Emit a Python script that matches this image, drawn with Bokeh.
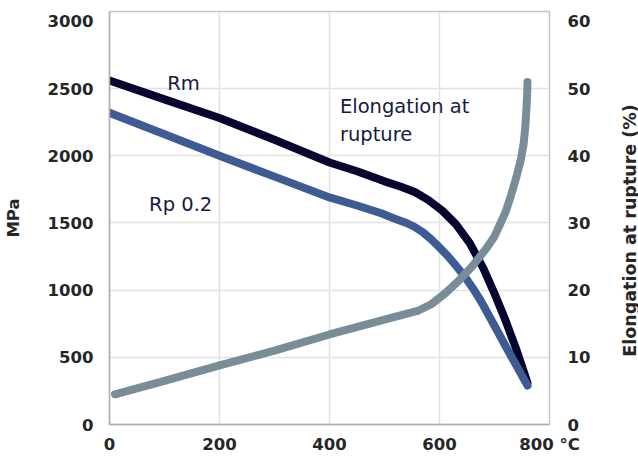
import math
from bokeh.plotting import figure
from bokeh.layouts import row
from bokeh.models import Range1d, LinearAxis, FixedTicker
from bokeh.core.properties import value
from bokeh.embed import file_html
from bokeh.resources import INLINE

# ---- data ----
rm_temp = [0, 100, 200, 300, 400, 450, 500, 530, 555, 580, 605, 630, 655, 680, 700, 720, 740, 760]
rm_mpa = [2560, 2420, 2281, 2120, 1950, 1885, 1810, 1770, 1730, 1670, 1592, 1490, 1350, 1160, 975, 775, 555, 310]

rp_temp = [0, 100, 200, 300, 400, 450, 494, 520, 540, 555, 570, 585, 600, 615, 630, 645, 660, 675, 700, 730, 760]
rp_mpa = [2320, 2160, 2000, 1845, 1690, 1630, 1572, 1530, 1500, 1470, 1430, 1378, 1318, 1254, 1182, 1106, 1018, 921, 735, 510, 290]

el_temp = [10, 100, 200, 300, 400, 500, 560, 585, 610, 635, 660, 685, 700, 720, 730, 740, 748, 753, 756, 758, 759.3, 760]
el_pct = [4.5, 6.5, 8.8, 11.0, 13.4, 15.6, 16.9, 17.9, 19.5, 21.4, 23.6, 26.2, 28.0, 31.6, 34.1, 36.9, 39.5, 41.8, 44.3, 47.0, 49.0, 51.0]

x_ticks = [0, 200, 400, 600, 800]
x_tick_labels = {800: "800 °C"}
mpa_ticks = [0, 500, 1000, 1500, 2000, 2500, 3000]
pct_ticks = [0, 10, 20, 30, 40, 50, 60]
grid_mpa = [500, 1000, 1500, 2000, 2500]
grid_temp = [200, 400, 600]

series_labels = ["Rm", "Rp 0.2", "Elongation at", "rupture"]
left_title = "MPa"
right_title = "Elongation at rupture (%)"

# ---- main figure ----
TICK_FONT = "DejaVu Sans"
TXT = "#262626"
LBL = "#161a40"
H = 456
p = figure(width=619, height=H, x_range=Range1d(0, 800), y_range=Range1d(0, 3074),
           output_backend="svg", toolbar_location=None,
           min_border_left=107, min_border_right=70, min_border_top=11, min_border_bottom=30)
p.extra_y_ranges = {"el": Range1d(0, 61.48)}
p.outline_line_color = "#c4c4c4"
p.outline_line_width = 1.5

p.xgrid.ticker = FixedTicker(ticks=grid_temp)
p.ygrid.ticker = FixedTicker(ticks=grid_mpa)
p.grid.grid_line_color = "#e2e2e2"
p.grid.grid_line_width = 1.5

def style_axis(ax):
    ax.major_tick_line_color = None
    ax.minor_tick_line_color = None
    ax.major_tick_out = 0
    ax.major_tick_in = 0
    ax.minor_tick_out = 0
    ax.minor_tick_in = 0
    ax.major_label_text_font = TICK_FONT
    ax.major_label_text_font_style = "bold"
    ax.major_label_text_font_size = "16.5px"
    ax.major_label_text_color = TXT
    ax.axis_label_text_font = TICK_FONT
    ax.axis_label_text_font_style = "bold"
    ax.axis_label_text_font_size = "16.5px"
    ax.axis_label_text_color = TXT

xa = p.xaxis[0]
xa.ticker = FixedTicker(ticks=x_ticks)
xa.major_label_overrides = x_tick_labels
style_axis(xa)
xa.axis_label = None
xa.axis_label_standoff = 0
xa.axis_line_color = "#b0b0b0"
xa.axis_line_width = 1.5
xa.major_label_standoff = 10

ya = p.yaxis[0]
ya.ticker = FixedTicker(ticks=mpa_ticks)
style_axis(ya)
ya.axis_line_color = "#b0b0b0"
ya.axis_line_width = 1.5
ya.axis_label = left_title
ya.major_label_standoff = 16
ya.axis_label_standoff = 22

ra = LinearAxis(y_range_name="el", ticker=FixedTicker(ticks=pct_ticks))
style_axis(ra)
ra.axis_label = None
ra.axis_label_standoff = 0
ra.axis_line_color = None
ra.major_label_standoff = 18
p.add_layout(ra, "right")

# ---- lines ----
p.line(rm_temp, rm_mpa, line_color="#050530", line_width=8, line_join="round", line_cap="round")
p.line(rp_temp, rp_mpa, line_color="#3e5b93", line_width=8, line_join="round", line_cap="round")
p.line(el_temp, el_pct, y_range_name="el", line_color="#798d99", line_width=8,
       line_join="round", line_cap="round")

# ---- series labels ----
p.text(x=[105, 72, 419], y=[2541, 1637, 2365], text=series_labels[:3],
       text_font=value("DejaVu Sans"), text_font_size="19.5px", text_color=LBL,
       text_baseline="alphabetic", text_align="left")
p.text(x=[419], y=[2155], text=series_labels[3:],
       text_font=value("DejaVu Sans"), text_font_size="19.5px", text_color=LBL,
       text_baseline="alphabetic", text_align="left")

# ---- narrow strip holding the right axis title (reads bottom to top) ----
q = figure(width=19, height=H, x_range=Range1d(0, 19), y_range=Range1d(0, 415),
           output_backend="svg", toolbar_location=None, x_axis_type=None, y_axis_type=None,
           min_border_left=0, min_border_right=0, min_border_top=11, min_border_bottom=30)
q.outline_line_color = None
q.grid.visible = False
q.text(x=[10], y=[195], text=[right_title], angle=math.pi / 2,
       text_font=value(TICK_FONT), text_font_style="bold", text_font_size="17.5px",
       text_color=TXT, text_align="center", text_baseline="middle")

layout = row(p, q)
open("out.html", "w").write(file_html(layout, INLINE))
